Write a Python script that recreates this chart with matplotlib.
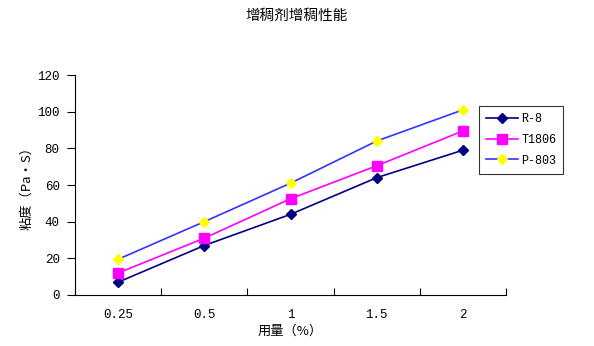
import matplotlib.pyplot as plt
import numpy as np

plt.rcParams['font.family'] = ['Noto Sans CJK SC', 'DejaVu Sans']

# dosage categories and viscosity readings per thickener
dosage = ['0.25', '0.5', '1', '1.5', '2']
r8 = [7, 27, 44, 64, 79]
t1806 = [12, 31, 52.5, 70.5, 89.5]
p803 = [19.5, 40, 61, 84, 101]

x = np.arange(len(dosage))
mono = 'Liberation Mono'

fig = plt.figure(figsize=(5.94, 3.46), dpi=100)
ax = fig.add_axes([0.1263, 0.1474, 0.7256, 0.6358])

ax.plot(x, r8, color='#000080', marker='D', markersize=5, linewidth=1.2,
        markerfacecolor='#000080', markeredgecolor='#000080', label='R-8')
ax.plot(x, t1806, color='#FF00FF', marker='s', markersize=6.5, linewidth=1.2,
        markerfacecolor='#FF00FF', markeredgecolor='#FF00FF', label='T1806')
ax.plot(x, p803, color='#3333FF', marker='D', markersize=5, linewidth=1.2,
        markerfacecolor='#FFFF00', markeredgecolor='#FFFF00', label='P-803')

ax.set_xlim(-0.5, len(dosage) - 0.5)
ax.set_ylim(0, 120)
ax.set_yticks(range(0, 121, 20))
ax.set_xticks(x)
ax.set_xticklabels(dosage, family=mono, fontsize=9)
ax.set_yticklabels([str(v) for v in range(0, 121, 20)], family=mono, fontsize=9)
ax.set_xticks(np.arange(-0.5, len(dosage)), minor=True)
ax.tick_params(axis='x', which='major', length=0, pad=10)
ax.tick_params(axis='x', which='minor', direction='in', length=5, width=0.8)
ax.tick_params(axis='y', direction='out', length=6, width=0.8, pad=5)

for side in ['top', 'right']:
    ax.spines[side].set_visible(False)
for side in ['left', 'bottom']:
    ax.spines[side].set_linewidth(0.8)

ax.set_xlabel('用量（%）', fontsize=9.5, labelpad=3)
ax.set_ylabel('粘度（Pa·S）', fontsize=9.5, labelpad=3)
fig.text(0.5, 0.953, '增稠剂增稠性能', ha='center', va='center', fontsize=10.5)

leg = ax.legend(loc='upper left', bbox_to_anchor=(0.937, 0.86), borderaxespad=0,
                prop={'family': mono, 'size': 8.5},
                frameon=True, fancybox=False, edgecolor='black',
                handlelength=2.7, borderpad=0.6, labelspacing=0.75,
                handletextpad=0.3)
leg.get_frame().set_linewidth(0.8)

fig.savefig('out.png', dpi=100)
